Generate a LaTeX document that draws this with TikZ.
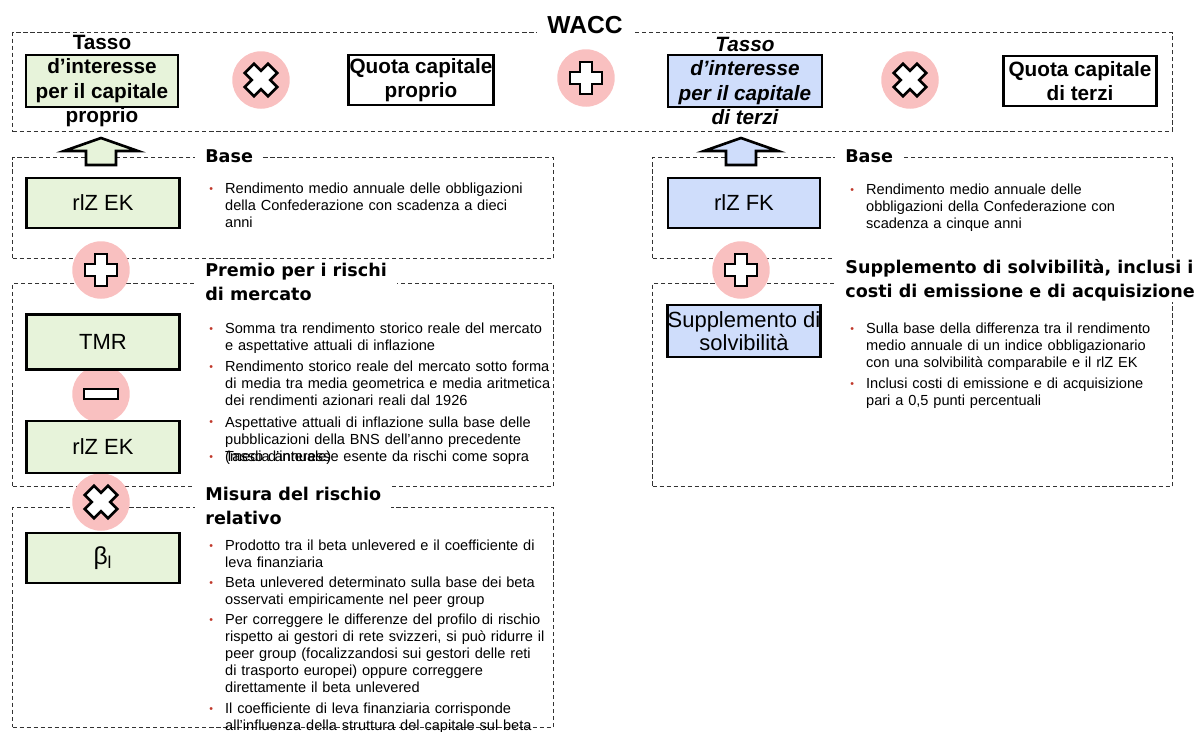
\documentclass[tikz,border=0pt]{standalone}
\usepackage{fontspec}
\usepackage{xcolor}
\usepackage{tikz}
\setmainfont{Liberation Sans}
\newfontfamily\headfont{DejaVu Sans}
\definecolor{ekGreen}{HTML}{E7F3DA}
\definecolor{fkBlue}{HTML}{CFDDFB}
\definecolor{opPink}{HTML}{F9C0C0}
\definecolor{dotRed}{HTML}{C0392B}
\definecolor{frameGrey}{HTML}{333333}
\usetikzlibrary{positioning,shapes.geometric,calc}

% bullet point with hanging indent
\newcommand{\bpoint}[1]{\par\noindent\hangindent=9pt\hangafter=1%
  \makebox[9pt][l]{\raisebox{0.6pt}{\textcolor{dotRed}{\fontsize{6}{6}\selectfont\textbullet}}}#1\par}
\newcommand{\bgap}{\vspace{2.4pt}}

\tikzset{
  plussym/.pic={\draw[line width=1.5pt, fill=white, line join=miter]
    (-6,-16) -- (6,-16) -- (6,-6) -- (16,-6) -- (16,6) -- (6,6) -- (6,16) -- (-6,16)
    -- (-6,6) -- (-16,6) -- (-16,-6) -- (-6,-6) -- cycle;},
  timessym/.pic={\draw[line width=1.5pt, fill=white, line join=miter, rotate=45]
    (-6.5,-16.5) -- (6.5,-16.5) -- (6.5,-6.5) -- (16.5,-6.5) -- (16.5,6.5) -- (6.5,6.5)
    -- (6.5,16.5) -- (-6.5,16.5) -- (-6.5,6.5) -- (-16.5,6.5) -- (-16.5,-6.5) -- (-6.5,-6.5) -- cycle;},
  minussym/.pic={\draw[line width=1.5pt, fill=white] (-17,-5) rectangle (17,5);}
}

\begin{document}
\begin{tikzpicture}[
  x=0.02cm, y=-0.02cm,
  frame/.style={draw=frameGrey, dash pattern=on 2.4pt off 1.6pt, line width=0.6pt, inner sep=0pt, anchor=north west},
  ekbox/.style={draw, line width=1.6pt, fill=ekGreen, minimum width=3.06cm, minimum height=1cm, inner sep=0pt, align=center, font=\fontsize{12.5}{12.8}\selectfont},
  fkbox/.style={ekbox, fill=fkBlue},
  quotabox/.style={draw, line width=1.6pt, fill=white, minimum width=2.9cm, minimum height=1cm, inner sep=0pt, align=center, font=\bfseries\fontsize{11.8}{13.8}\selectfont},
  toplabel/.style={align=center, inner sep=0pt, font=\bfseries\fontsize{11.8}{13.8}\selectfont},
  opcircle/.style={circle, fill=opPink, minimum size=1.15cm, inner sep=0pt},
  heading/.style={fill=white, anchor=west, align=left, inner xsep=0.2cm, inner ysep=0.5pt, font=\headfont\bfseries\fontsize{10}{13.6}\selectfont},
  bullets/.style={anchor=north west, align=left, inner sep=0pt, text width=7cm, font=\fontsize{8.3}{9.7}\selectfont},
  uparrow/.style={draw, line width=1.5pt, line join=miter}
]
\useasboundingbox (0,0) rectangle (1198,731);

% WACC row
\node[frame, minimum width=23.2cm, minimum height=1.98cm] (wacc) at (12,32) {};
\node[fill=white, inner xsep=0.2cm, inner ysep=1pt, font=\bfseries\fontsize{14}{14}\selectfont] (wacctitle) at (585,25) {WACC};

\node[ekbox, minimum width=3.04cm, minimum height=1.04cm] (tassoEK) at (102,81) {};
\node[toplabel] (tassoEKtxt) at (tassoEK) {Tasso\\d’interesse\\per il capitale\\proprio};
\node[opcircle] (opA) at (261,80) {};
\pic at (opA) {timessym};
\node[quotabox] (quotaEK) at (421,80) {Quota capitale\\proprio};
\node[opcircle] (opB) at (586,78) {};
\pic at (opB) {plussym};
\node[fkbox, minimum width=3.08cm, minimum height=1.04cm] (tassoFK) at (745,81) {};
\node[toplabel, font=\bfseries\itshape\fontsize{11.8}{13.8}\selectfont] (tassoFKtxt) at (tassoFK) {Tasso\\d’interesse\\per il capitale\\di terzi};
\node[opcircle] (opC) at (910,80) {};
\pic at (opC) {timessym};
\node[quotabox, minimum width=3.06cm] (quotaFK) at (1080,81) {Quota capitale\\di terzi};

% cost of equity
\node[frame, minimum width=10.82cm, minimum height=2.02cm] (baseEK) at (12,157) {};
\node[frame, minimum width=10.82cm, minimum height=4.06cm] (premio) at (12,283) {};
\node[frame, minimum width=10.82cm, minimum height=4.4cm] (misura) at (12,507) {};
\node[heading] (baseEKhead) at (195,156) {Base};
\node[heading] (premiohead) at (195,282) {Premio per i rischi\\di mercato};
\node[heading] (misurahead) at (195,506) {Misura del rischio\\relativo};

\coordinate (arrEK) at (101,165);
\draw[uparrow, fill=ekGreen] (arrEK) ++(-15,0) -- ++(0,-14) -- ++(-22,0) -- ++(37,-13)
  -- ++(37,13) -- ++(-22,0) -- ++(0,14) -- cycle;

\node[opcircle] (opD) at (101,270) {};
\pic at (opD) {plussym};
\node[opcircle] (opE) at (101,394) {};
\pic at (opE) {minussym};
\node[opcircle] (opF) at (101,502) {};
\pic at (opF) {timessym};

\node[ekbox] (rlzEK) at (103,203) {rlZ EK};
\node[ekbox, minimum height=1.1cm] (tmr) at (103,342) {TMR};
\node[ekbox, minimum height=1.04cm] (rlzEKb) at (103,447) {rlZ EK};
\node[ekbox, font=\fontsize{14}{14}\selectfont] (betaL) at (103,558) {β\textsubscript{l}};

\node[bullets] (baseEKtxt) at (209,176) {%
\bpoint{Rendimento medio annuale delle obbligazioni\newline della Confederazione con scadenza a dieci\newline anni}};
\node[bullets] (premiotxt) at (209,316) {%
\bpoint{Somma tra rendimento storico reale del mercato\newline e aspettative attuali di inflazione}\bgap
\bpoint{Rendimento storico reale del mercato sotto forma\newline di media tra media geometrica e media aritmetica\newline dei rendimenti azionari reali dal 1926}\bgap
\bpoint{Aspettative attuali di inflazione sulla base delle\newline pubblicazioni della BNS dell’anno precedente\newline (media annuale)}\vspace{-9.7pt}
\bpoint{Tasso d’interesse esente da rischi come sopra}};
\node[bullets] (misuratxt) at (209,533) {%
\bpoint{Prodotto tra il beta unlevered e il coefficiente di\newline leva finanziaria}\vspace{1.6pt}
\bpoint{Beta unlevered determinato sulla base dei beta\newline osservati empiricamente nel peer group}\vspace{1.6pt}
\bpoint{Per correggere le differenze del profilo di rischio\newline rispetto ai gestori di rete svizzeri, si può ridurre il\newline peer group (focalizzandosi sui gestori delle reti\newline di trasporto europei) oppure correggere\newline direttamente il beta unlevered}\bgap
\bpoint{Il coefficiente di leva finanziaria corrisponde\newline all’influenza della struttura del capitale sul beta}};

% cost of debt
\node[frame, minimum width=10.4cm, minimum height=2.02cm] (baseFK) at (652,157) {};
\node[frame, minimum width=10.4cm, minimum height=4.06cm] (suppl) at (652,283) {};
\node[heading] (baseFKhead) at (835,156) {Base};
\node[heading] (supplhead) at (835,280) {Supplemento di solvibilità, inclusi i\\costi di emissione e di acquisizione};

\coordinate (arrFK) at (741,165);
\draw[uparrow, fill=fkBlue] (arrFK) ++(-15,0) -- ++(0,-14) -- ++(-22,0) -- ++(37,-13)
  -- ++(37,13) -- ++(-22,0) -- ++(0,14) -- cycle;

\node[opcircle] (opG) at (741,270) {};
\pic at (opG) {plussym};

\node[fkbox, minimum width=3.04cm] (rlzFK) at (744,203) {rlZ FK};
\node[fkbox, minimum width=3.04cm, minimum height=1.04cm] (supplbox) at (744,331) {Supplemento di\\solvibilità};

\node[bullets] (baseFKtxt) at (850,177) {%
\bpoint{Rendimento medio annuale delle\newline obbligazioni della Confederazione con\newline scadenza a cinque anni}};
\node[bullets] (suppltxt) at (850,316) {%
\bpoint{Sulla base della differenza tra il rendimento\newline medio annuale di un indice obbligazionario\newline con una solvibilità comparabile e il rlZ EK}\bgap
\bpoint{Inclusi costi di emissione e di acquisizione\newline pari a 0,5 punti percentuali}};

\end{tikzpicture}
\end{document}
